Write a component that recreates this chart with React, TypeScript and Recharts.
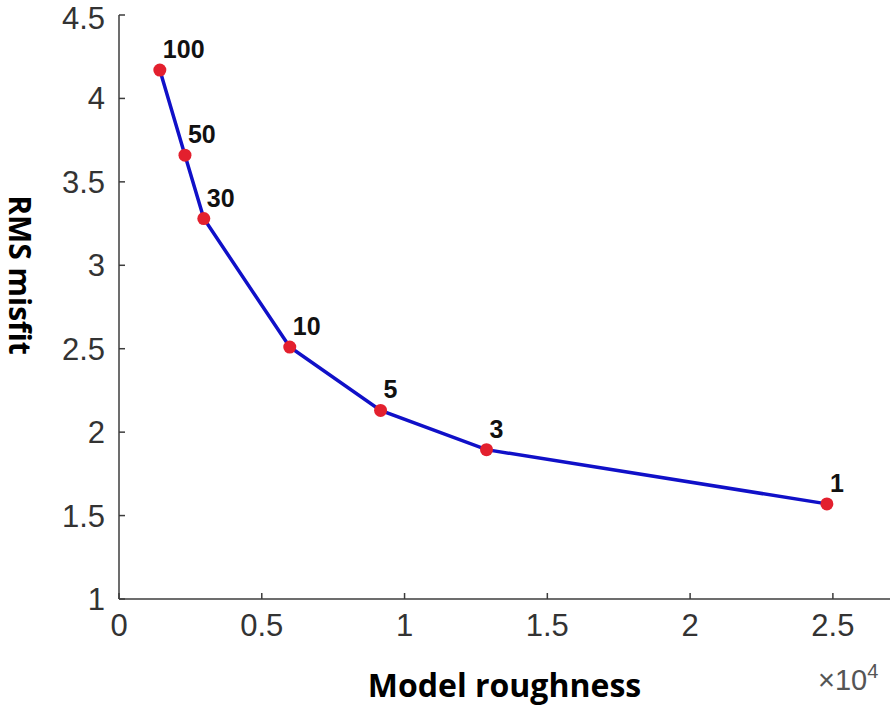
import { ComposedChart, Line, XAxis, YAxis, Label, LabelList } from "recharts";

// L-curve: model roughness (x 10^4) vs RMS misfit, labelled by trade-off parameter
const ROUGHNESS = [0.143, 0.231, 0.297, 0.598, 0.916, 1.287, 2.479];
const MISFIT = [4.17, 3.66, 3.28, 2.51, 2.13, 1.895, 1.57];
const LAMBDA = ["100", "50", "30", "10", "5", "3", "1"];

const X_TICKS = [0, 0.5, 1, 1.5, 2, 2.5];
const Y_TICKS = [1, 1.5, 2, 2.5, 3, 3.5, 4, 4.5];

const data = ROUGHNESS.map((x, i) => ({ x, y: MISFIT[i], lam: LAMBDA[i] }));

const AXIS = "#3c3c3c";
const TICK_FONT = { fontSize: 31, fill: "#333", fontFamily: "Liberation Sans, Arial, sans-serif" };
const TITLE_FONT = "'Open Sans', 'Noto Sans', sans-serif";

const RedDot = (p: any) => (
  <circle key={p.index} cx={p.cx} cy={p.cy} r={6.5} fill="#e3202e" />
);

const PointLabel = (p: any) => (
  <text
    x={p.x + 3}
    y={p.y - 12}
    fontSize={25}
    fontWeight="bold"
    fill="#111"
    fontFamily="Liberation Sans, Arial, sans-serif"
  >
    {p.value}
  </text>
);

export default function App() {
  return (
    <div style={{ position: "absolute", left: 0, top: 0, background: "#fff" }}>
      <ComposedChart
        width={896}
        height={714}
        data={data}
        margin={{ top: 15, right: 6, bottom: 0, left: 0 }}
      >
        <XAxis
          type="number"
          dataKey="x"
          domain={[0, 2.7]}
          ticks={X_TICKS}
          tickFormatter={(v) => String(v)}
          height={115}
          tickSize={-6}
          tickMargin={21}
          tick={TICK_FONT}
          axisLine={{ stroke: AXIS, strokeWidth: 1.5 }}
          tickLine={{ stroke: AXIS, strokeWidth: 1.5 }}
        >
          <Label
            value="Model roughness"
            position="insideBottom"
            offset={17}
            style={{ fontSize: 32, fontWeight: 700, fill: "#000", fontFamily: TITLE_FONT }}
          />
          <Label
            content={() => (
              <text x={818} y={690} fill="#555" fontSize={29} fontFamily="Liberation Sans, Arial, sans-serif">
                ×10
                <tspan dy={-12} fontSize={20}>4</tspan>
              </text>
            )}
          />
        </XAxis>
        <YAxis
          type="number"
          domain={[1, 4.5]}
          ticks={Y_TICKS}
          width={119}
          tickSize={-6}
          tickMargin={20}
          tick={TICK_FONT}
          axisLine={{ stroke: AXIS, strokeWidth: 1.5 }}
          tickLine={{ stroke: AXIS, strokeWidth: 1.5 }}
        >
          <Label
            content={() => (
              <text
                x={9}
                y={275}
                transform="rotate(90 9 275)"
                textAnchor="middle"
                fontSize={30}
                fontWeight={700}
                fill="#000"
                fontFamily={TITLE_FONT}
              >
                RMS misfit
              </text>
            )}
          />
        </YAxis>
        <Line
          dataKey="y"
          stroke="none"
          dot={RedDot}
          activeDot={false}
          isAnimationActive={false}
        />
        <Line
          dataKey="y"
          stroke="#1010c8"
          strokeWidth={3.5}
          dot={false}
          activeDot={false}
          isAnimationActive={false}
        >
          <LabelList dataKey="lam" content={PointLabel} />
        </Line>
      </ComposedChart>
    </div>
  );
}
